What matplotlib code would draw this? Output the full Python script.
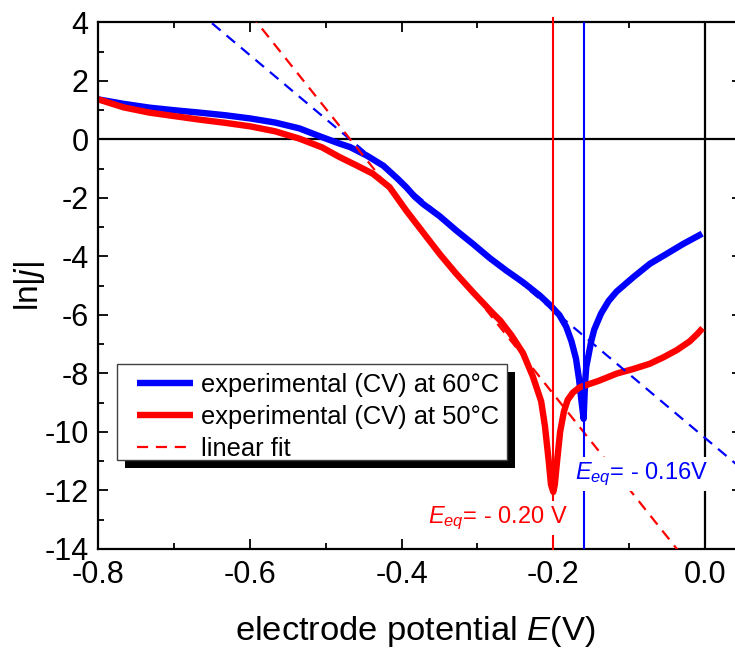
import matplotlib
matplotlib.use("Agg")
import matplotlib.pyplot as plt
import matplotlib.patheffects as pe
from matplotlib.patches import Rectangle
from matplotlib.ticker import MultipleLocator, FormatStrFormatter
import numpy as np

plt.rcParams["font.family"] = ["Liberation Sans", "DejaVu Sans"]
plt.rcParams["mathtext.fontset"] = "custom"
plt.rcParams["mathtext.rm"] = "Liberation Sans"
plt.rcParams["mathtext.it"] = "Liberation Sans:italic"
plt.rcParams["axes.unicode_minus"] = False

# Tafel plot data: electrode potential E (V) vs ln|j|
E_60 = [-0.800, -0.767, -0.733, -0.700, -0.667, -0.633, -0.600, -0.567, -0.535,
        -0.505, -0.482, -0.468, -0.446, -0.424, -0.405, -0.394, -0.383, -0.372,
        -0.350, -0.328, -0.306, -0.284, -0.262, -0.240, -0.218, -0.204, -0.192,
        -0.183, -0.176, -0.170, -0.166, -0.163, -0.160, -0.159, -0.158, -0.1565,
        -0.150, -0.146, -0.137, -0.127, -0.1165, -0.0946, -0.0726, -0.0505,
        -0.0286, -0.0036]
lnj_60 = [1.37, 1.22, 1.09, 1.00, 0.92, 0.83, 0.72, 0.58, 0.38,
          0.08, -0.14, -0.26, -0.55, -0.90, -1.35, -1.63, -1.95, -2.20,
          -2.62, -3.11, -3.57, -4.05, -4.48, -4.88, -5.33, -5.67, -6.00,
          -6.40, -6.90, -7.50, -8.20, -8.90, -9.55, -8.90, -8.30, -7.78,
          -6.90, -6.50, -5.95, -5.52, -5.20, -4.71, -4.25, -3.91,
          -3.57, -3.22]

E_50 = [-0.800, -0.767, -0.733, -0.700, -0.667, -0.633, -0.600, -0.567, -0.535,
        -0.505, -0.482, -0.460, -0.438, -0.416, -0.394, -0.372, -0.350, -0.328,
        -0.306, -0.279, -0.270, -0.255, -0.240, -0.227, -0.216, -0.211, -0.206,
        -0.203, -0.200, -0.198, -0.195, -0.191, -0.186, -0.181, -0.174, -0.165,
        -0.140, -0.116, -0.095, -0.073, -0.055, -0.037, -0.020, -0.010, -0.003]
lnj_50 = [1.37, 1.10, 0.92, 0.80, 0.68, 0.57, 0.45, 0.28, 0.03,
          -0.27, -0.60, -0.88, -1.17, -1.63, -2.43, -3.17, -3.91, -4.59,
          -5.22, -5.96, -6.19, -6.70, -7.30, -8.10, -8.95, -9.80, -11.0,
          -11.8, -12.05, -11.8, -11.0, -10.0, -9.3, -8.9, -8.65, -8.47,
          -8.25, -8.00, -7.85, -7.67, -7.45, -7.20, -6.90, -6.65, -6.45]

# linear (Tafel) fits: ln|j| = slope * E + intercept
fit_slope = {"60": -21.8, "50": -32.5}
fit_intercept = {"60": -10.2, "50": -15.2}

# equilibrium potentials (V)
E_eq = {"60": -0.16, "50": -0.20}

x_ticks_major = [-0.8, -0.6, -0.4, -0.2, 0.0]
y_ticks_major = list(range(-14, 5, 2))

BLUE = "#0000ff"
RED = "#ff0000"

fig = plt.figure(figsize=(7.35, 6.5), dpi=100)
ax = fig.add_axes([0.1339, 0.1554, 0.8757, 0.8100])
xmin, xmax = -0.8, 0.049
ax.set_xlim(xmin, xmax)
ax.set_ylim(-14, 4)

# reference lines at ln|j| = 0 and E = 0
ax.axhline(0, color="black", lw=1.6, zorder=1)
ax.axvline(0, color="black", lw=1.6, zorder=1)

ax.plot(E_60, lnj_60, color=BLUE, lw=4.6, solid_capstyle="butt",
        solid_joinstyle="round", zorder=2, label="experimental (CV) at 60°C")
ax.plot(E_50, lnj_50, color=RED, lw=4.6, solid_capstyle="butt",
        solid_joinstyle="round", zorder=2.1, label="experimental (CV) at 50°C")

ex = np.array([xmin, xmax])
ax.plot(ex, fit_slope["60"] * ex + fit_intercept["60"], color=BLUE, lw=1.6,
        dashes=(5, 3.5), zorder=3)
ax.plot(ex, fit_slope["50"] * ex + fit_intercept["50"], color=RED, lw=1.6,
        dashes=(5, 3.5), zorder=3, label="linear fit")

# equilibrium potential markers
ax.plot([E_eq["50"], E_eq["50"]], [-14, 4.15], color=RED, lw=1.5,
        zorder=3.5, clip_on=False)
ax.plot([E_eq["60"], E_eq["60"]], [-14, 4], color=BLUE, lw=1.5, zorder=3.5)

box = dict(facecolor="white", edgecolor="none", pad=2.5)
ax.text(-0.1715, -11.6, r"$E_{eq}$= - %.2fV" % abs(E_eq["60"]), color=BLUE,
        fontsize=17, ha="left", va="baseline", bbox=box, zorder=5)
ax.text(-0.3654, -13.1, r"$E_{eq}$= - %.2f V" % abs(E_eq["50"]), color=RED,
        fontsize=17, ha="left", va="baseline", bbox=box, zorder=5)

# axes styling
for side in ["left", "bottom", "top", "right"]:
    ax.spines[side].set_linewidth(1.6)
ax.xaxis.set_minor_locator(MultipleLocator(0.1))
ax.yaxis.set_minor_locator(MultipleLocator(1))
ax.set_xticks(x_ticks_major)
ax.set_yticks(y_ticks_major)
ax.xaxis.set_major_formatter(FormatStrFormatter("%.1f"))
ax.yaxis.set_major_formatter(FormatStrFormatter("%d"))
ax.tick_params(which="both", direction="in", top=True, right=True,
               width=1.3, labelsize=22)
ax.tick_params(which="major", length=7.2)
ax.tick_params(which="minor", length=4)
ax.tick_params(axis="x", pad=8)
ax.tick_params(axis="y", pad=7)

ax.set_xlabel(r"electrode potential $E$(V)", fontsize=24.8, labelpad=17)
ax.xaxis.label.set_x(0.4927)
ax.set_ylabel(r"ln|$j$|", fontsize=24, labelpad=-2)

# legend box with a solid drop shadow
legend_box = Rectangle((0.0289, 0.169), 0.606, 0.1824, transform=ax.transAxes,
                       facecolor="white", edgecolor="#404040", lw=1.0,
                       zorder=5.9, clip_on=False)
legend_box.set_path_effects([
    pe.SimplePatchShadow(offset=(5.5, -5.5), shadow_rgbFace="black", alpha=1.0),
    pe.Normal(),
])
ax.add_patch(legend_box)

leg = ax.legend(loc="upper left", bbox_to_anchor=(0.0595, 0.334),
                borderaxespad=0, borderpad=0, fontsize=18.4, handlelength=2.22,
                handletextpad=0.29, labelspacing=0.31, frameon=False)
leg.set_zorder(6)

fig.savefig("out.png", dpi=100)
